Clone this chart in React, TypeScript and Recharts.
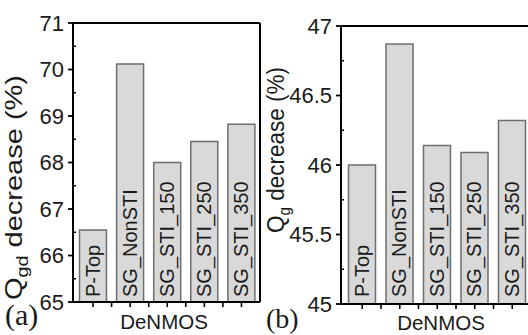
import React from 'react';
import { BarChart, Bar, XAxis, YAxis, LabelList } from 'recharts';

const categories = ['P-Top', 'SG_NonSTI', 'SG_STI_150', 'SG_STI_250', 'SG_STI_350'];
const qgdDecrease = [66.55, 70.12, 68.0, 68.45, 68.82];
const qgDecrease = [46.0, 46.87, 46.14, 46.09, 46.32];
const qgdTicks = [65, 65.5, 66, 66.5, 67, 67.5, 68, 68.5, 69, 69.5, 70, 70.5, 71];
const qgTicks = [45, 45.25, 45.5, 45.75, 46, 46.25, 46.5, 46.75, 47];
const boundaryTicks = [1, 2, 3, 4];

const dataA = categories.map((name, i) => ({ name, value: qgdDecrease[i], pos: i + 0.5 }));
const dataB = categories.map((name, i) => ({ name, value: qgDecrease[i], pos: i + 0.5 }));

const SANS = '"Liberation Sans", Arial, sans-serif';
const SERIF = '"Liberation Serif", "Times New Roman", serif';
const AXIS = '#000';
const TEXT = '#1a1a1a';
const BAR_FILL = '#d9d9d9';
const BAR_STROKE = '#6e6e6e';

const vbOf = (p: any) => (p && p.viewBox) ? p.viewBox : p;

const makeYTick = (isMajor: (v: number) => boolean, fontSize: number) => (p: any) => {
  const { x, y, payload } = p;
  const ax = x + 8;
  const v = payload.value;
  if (isMajor(v)) {
    return (
      <g>
        <line x1={ax - 5} x2={ax} y1={y} y2={y} stroke={AXIS} strokeWidth={1.8} />
        <text x={x - 1} y={y} dy="0.35em" textAnchor="end" fontFamily={SANS} fontSize={fontSize} fill={TEXT}>
          {String(v)}
        </text>
      </g>
    );
  }
  return <line x1={ax} x2={ax + 3} y1={y} y2={y} stroke={AXIS} strokeWidth={1.5} />;
};

const makeBarLabel = (bottomGap: number) => (p: any) => {
  const vb = vbOf(p);
  const { x, y, width, height } = vb;
  const cx = x + width / 2 + 6.5;
  const by = y + height - bottomGap;
  return (
    <text
      x={cx}
      y={by}
      transform={`rotate(-90 ${cx} ${by})`}
      textAnchor="start"
      fontFamily={SANS}
      fontSize={20}
      fill={TEXT}
    >
      {p.value}
    </text>
  );
};

const makeYTitle = (sub: string, dxBase: number, dyCenter: number, fontSize: number, len: number) => (p: any) => {
  const vb = vbOf(p);
  const cx = vb.x + dxBase;
  const cy = vb.y + vb.height / 2 + dyCenter;
  return (
    <text
      x={cx}
      y={cy}
      transform={`rotate(-90 ${cx} ${cy})`}
      textAnchor="middle"
      fontFamily={SANS}
      fontSize={fontSize}
      fill={TEXT}
      textLength={len}
      lengthAdjust="spacingAndGlyphs"
    >
      <tspan>Q</tspan>
      <tspan dy={6} fontSize={fontSize * 0.68}>{sub}</tspan>
      <tspan dy={-6}> decrease (%)</tspan>
    </text>
  );
};

const makeXTitle = (panel: string, dxCenter: number, dyBase: number, panelDx: number, panelDy: number, panelSize: number) => (p: any) => {
  const vb = vbOf(p);
  return (
    <g>
      <text
        x={vb.x + vb.width / 2 + dxCenter}
        y={vb.y + dyBase}
        textAnchor="middle"
        fontFamily={SANS}
        fontSize={20.5}
        fill={TEXT}
      >
        DeNMOS
      </text>
      <text x={vb.x + panelDx} y={vb.y + panelDy} fontFamily={SERIF} fontSize={panelSize} fill={TEXT}>
        {panel}
      </text>
    </g>
  );
};

const axisLine = { stroke: AXIS, strokeWidth: 2 };
const tickLine = { stroke: AXIS, strokeWidth: 1.6 };

type PanelProps = {
  data: any[];
  width: number;
  margin: any;
  domain: [number, number];
  ticks: number[];
  isMajor: (v: number) => boolean;
  padLeft: number;
  sub: string;
  titleDx: number;
  titleDy: number;
  titleSize: number;
  titleLen: number;
  panel: string;
  panelSize: number;
  xDx: number;
  xDy: number;
  pDx: number;
  pDy: number;
  labelGap: number;
};

function Panel(pr: PanelProps) {
  return (
    <BarChart width={pr.width} height={335} data={pr.data} margin={pr.margin} barSize={27}>
      <XAxis
        xAxisId="cat"
        dataKey="name"
        height={1}
        padding={{ left: pr.padLeft, right: 0 }}
        interval={0}
        tickFormatter={() => ''}
        tickSize={5}
        stroke={AXIS}
        tickLine={tickLine}
        axisLine={axisLine}
        label={makeXTitle(pr.panel, pr.xDx, pr.xDy, pr.pDx, pr.pDy, pr.panelSize)}
      />
      <XAxis
        xAxisId="minor"
        type="number"
        dataKey="pos"
        domain={[0, 5]}
        allowDataOverflow
        ticks={boundaryTicks}
        interval={0}
        height={1}
        padding={{ left: pr.padLeft, right: 0 }}
        tickFormatter={() => ''}
        tickSize={4}
        stroke={AXIS}
        tickLine={tickLine}
        axisLine={false}
      />
      <XAxis
        xAxisId="top"
        orientation="top"
        type="number"
        domain={[0, 5]}
        allowDataOverflow
        height={1}
        tickFormatter={() => ''}
        tickLine={false}
        stroke={AXIS}
        axisLine={axisLine}
      />
      <YAxis
        yAxisId="left"
        width={60}
        domain={pr.domain}
        allowDataOverflow
        ticks={pr.ticks}
        interval={0}
        tickSize={5}
        tickMargin={3}
        tickLine={false}
        stroke={AXIS}
        axisLine={axisLine}
        tick={makeYTick(pr.isMajor, 22)}
        label={makeYTitle(pr.sub, pr.titleDx, pr.titleDy, pr.titleSize, pr.titleLen)}
      />
      <YAxis
        yAxisId="right"
        orientation="right"
        width={1}
        domain={pr.domain}
        allowDataOverflow
        tickFormatter={() => ''}
        tickLine={false}
        stroke={AXIS}
        axisLine={axisLine}
      />
      <Bar
        xAxisId="cat"
        yAxisId="left"
        dataKey="value"
        fill={BAR_FILL}
        stroke={BAR_STROKE}
        strokeWidth={1.5}
        isAnimationActive={false}
      >
        <LabelList dataKey="name" content={makeBarLabel(pr.labelGap)} />
      </Bar>
    </BarChart>
  );
}

export default function App() {
  return (
    <div
      style={{
        position: 'absolute',
        left: 0,
        top: 0,
        width: 528,
        height: 335,
        overflow: 'hidden',
        background: '#fff',
      }}
    >
      <div style={{ position: 'absolute', left: 0, top: 0 }}>
        <Panel
          data={dataA}
          width={270}
          margin={{ top: 22, right: 9, bottom: 31, left: 13 }}
          domain={[65, 71]}
          ticks={qgdTicks}
          isMajor={(v) => Number.isInteger(v)}
          padLeft={1.5}
          sub="gd"
          titleDx={9}
          titleDy={25}
          titleSize={24}
          titleLen={225}
          panel="(a)"
          panelSize={30}
          xDx={-2.5}
          xDy={27}
          pDx={-68}
          pDy={23}
          labelGap={5}
        />
      </div>
      <div style={{ position: 'absolute', left: 264, top: 0 }}>
        <Panel
          data={dataB}
          width={280}
          margin={{ top: 25, right: 12, bottom: 29, left: 17 }}
          domain={[45, 47]}
          ticks={qgTicks}
          isMajor={(v) => Number.isInteger(v * 2)}
          padLeft={2.5}
          sub="g"
          titleDx={2.5}
          titleDy={-15}
          titleSize={23}
          titleLen={166}
          panel="(b)"
          panelSize={28}
          xDx={5}
          xDy={25.5}
          pDx={-75}
          pDy={24}
          labelGap={7}
        />
      </div>
    </div>
  );
}
